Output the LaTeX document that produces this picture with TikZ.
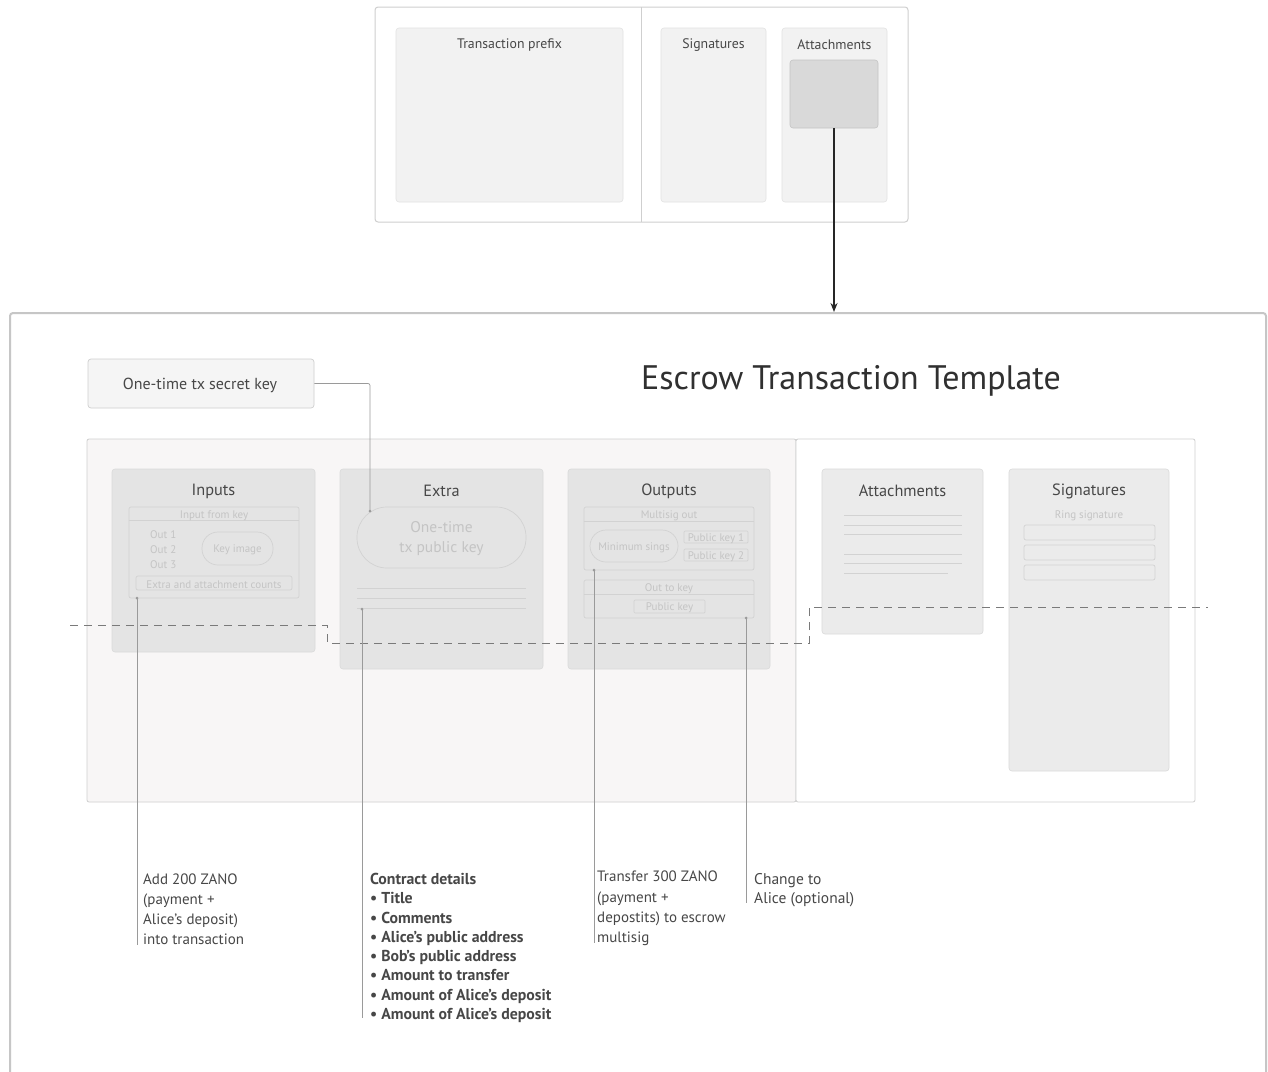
\documentclass[tikz,border=0pt]{standalone}
\usepackage{fontspec}
\setmainfont{PT Sans}
\usetikzlibrary{fit,arrows.meta}
\definecolor{txt}{HTML}{474747}
\definecolor{dark}{HTML}{303030}
\definecolor{faint}{HTML}{C4C4C4}
\definecolor{cardA}{HTML}{E4E4E4}
\definecolor{cardB}{HTML}{EBEBEB}
\definecolor{cardborder}{HTML}{DADADA}
\definecolor{topfill}{HTML}{F2F2F2}
\definecolor{topborder}{HTML}{E2E2E2}
\definecolor{frame}{HTML}{CFCFCF}
\definecolor{bigframe}{HTML}{C6C6C6}
\definecolor{pinkish}{HTML}{F8F6F6}
\definecolor{subline}{HTML}{D2D2D2}
\definecolor{leadc}{HTML}{9A9A9A}
\definecolor{dashc}{HTML}{7A7A7A}
\begin{document}
\begin{tikzpicture}[x=1pt,y=-1pt,
  outerbox/.style={draw=frame,line width=1pt,rounded corners=3pt,inner sep=0pt},
  topcard/.style={fill=topfill,draw=topborder,line width=.6pt,rounded corners=3pt,inner sep=0pt},
  carda/.style={fill=cardA,draw=cardborder,line width=.6pt,rounded corners=3pt,inner sep=0pt},
  cardb/.style={fill=cardB,draw=cardborder,line width=.6pt,rounded corners=3pt,inner sep=0pt},
  subbox/.style={draw=subline,line width=.7pt,rounded corners=2pt,inner sep=0pt},
  pill/.style={draw=subline,line width=.7pt,rounded corners=#1,inner sep=0pt},
  lbl/.style={text=txt,font=\fontsize{16.3}{19}\selectfont,inner sep=0pt,yshift=-2pt},
  toplbl/.style={text=txt,font=\fontsize{13.8}{16}\selectfont,inner sep=0pt,yshift=-2pt},
  tiny/.style={text=faint,font=\fontsize{11}{12}\selectfont,inner sep=0pt,yshift=-1.5pt},
  note/.style={text=txt,font=\fontsize{15}{20}\selectfont,inner sep=0pt,align=left,anchor=north west},
  lead/.style={draw=leadc,line width=.7pt},
  ruleline/.style={draw=subline,line width=.9pt},
  bord/.style={dash pattern=on 8pt off 6pt,draw=dashc,line width=1pt},
]
\useasboundingbox (0,0) rectangle (1268,1071);
\fill[white] (0,0) rectangle (1268,1071);

% ---------- top transaction ----------
\node[outerbox,fill=white,fit={(375,7)(908,222)}] (top) {};
\draw[frame,line width=1pt] (641,7) -- (641,222);
\node[topcard,fit={(396,28)(623,202)}] (tp) {};
\node[toplbl] (tpl) at (509.5,43) {Transaction prefix};
\node[topcard,fit={(661,28)(766,202)}] (tsig) {};
\node[toplbl] (tsigl) at (713.5,43) {Signatures};
\node[topcard,fit={(782,28)(887,202)}] (tatt) {};
\node[toplbl] (tattl) at (834.5,43) {Attachments};
\node[fill=cardA!95!black,draw=cardborder!90!black,line width=.6pt,rounded corners=3pt,inner sep=0pt,fit={(790,60)(878,128)}] (attin) {};

% ---------- big frame ----------
\node[draw=bigframe,line width=2pt,rounded corners=3pt,inner sep=0pt,fit={(10,313)(1266,1090)}] (big) {};
\draw[-{Stealth[length=9pt,width=7pt]},line width=1.5pt,black!85] (attin.south) -- (attin.south |- big.north);

\node[text=dark,font=\fontsize{34}{40}\selectfont,inner sep=0pt] (title) at (851,381) {Escrow Transaction Template};

\node[fill=white!96!black,draw=frame,line width=.7pt,rounded corners=3pt,inner sep=0pt,fit={(88,359)(314,408)}] (sk) {};
\node[text=txt,font=\fontsize{16}{18}\selectfont,inner sep=0pt] (skl) at (200,385) {One-time tx secret key};

% inner frame
\node[fill=pinkish,draw=frame,line width=.8pt,rounded corners=2pt,inner sep=0pt,fit={(87,439)(796,802)}] (left) {};
\node[fill=white,draw=frame,line width=.8pt,rounded corners=2pt,inner sep=0pt,fit={(796,439)(1195,802)}] (right) {};

% Inputs
\node[carda,fit={(112,469)(315,652)}] (inputs) {};
\node[lbl] (inputsl) at (213.5,489) {Inputs};
\node[subbox,fit={(129,507)(299,598)}] (ifk) {};
\draw[subline,line width=.7pt] (ifk.west |- 0,520) -- (ifk.east |- 0,520);
\node[tiny] (ifkl) at (214,514) {Input from key};
\node[tiny,anchor=west] (o1) at (150,533) {Out 1};
\node[tiny,anchor=west] (o2) at (150,548) {Out 2};
\node[tiny,anchor=west] (o3) at (150,563) {Out 3};
\node[pill=16pt,fit={(202,532)(273,565)}] (ki) {};
\node[tiny] (kil) at (ki.center) {Key image};
\node[subbox,fit={(136,576)(292,590)}] (eac) {};
\node[tiny] (eacl) at (eac.center) {Extra and attachment counts};

% Extra
\node[carda,fit={(340,469)(543,669)}] (extra) {};
\node[lbl] (extral) at (441.5,489) {Extra};
\node[pill=30pt,fit={(357,507)(526,568)}] (otp) {};
\node[text=faint,font=\fontsize{15.5}{20}\selectfont,align=center,inner sep=0pt,yshift=-1.5pt] (otpl) at (otp.center) {One-time\\tx public key};
\draw[ruleline] (357,588) -- (526,588);
\draw[ruleline] (357,598) -- (526,598);
\draw[ruleline] (357,608) -- (526,608);

% Outputs
\node[carda,fit={(568,469)(770,669)}] (outputs) {};
\node[lbl] (outputsl) at (669,489) {Outputs};
\node[subbox,fit={(584,507)(754,570)}] (mso) {};
\draw[subline,line width=.7pt] (mso.west |- 0,521) -- (mso.east |- 0,521);
\node[tiny] (msol) at (669,514) {Multisig out};
\node[pill=16pt,fit={(590,530)(678,562)}] (mins) {};
\node[tiny] (minsl) at (mins.center) {Minimum sings};
\node[subbox,rounded corners=1pt,fit={(684,531)(748,543)}] (pk1) {};
\node[tiny] (pk1l) at (pk1.center) {Public key 1};
\node[subbox,rounded corners=1pt,fit={(684,549)(748,561)}] (pk2) {};
\node[tiny] (pk2l) at (pk2.center) {Public key 2};
\node[subbox,fit={(584,580)(754,618)}] (otk) {};
\draw[subline,line width=.7pt] (otk.west |- 0,594) -- (otk.east |- 0,594);
\node[tiny] (otkl) at (669,587) {Out to key};
\node[subbox,rounded corners=1pt,fit={(634,600)(705,613)}] (pk) {};
\node[tiny] (pkl) at (pk.center) {Public key};

% Attachments
\node[cardb,fit={(822,469)(983,634)}] (att) {};
\node[lbl] (attl) at (902.5,489) {Attachments};
\foreach \yy in {515,525,534,554,563} \draw[ruleline] (844,\yy) -- (962,\yy);
\draw[ruleline] (844,573) -- (948,573);

% Signatures
\node[cardb,fit={(1009,469)(1169,771)}] (sig) {};
\node[lbl] (sigl) at (1089,489) {Signatures};
\node[tiny] (ringl) at (1089,514) {Ring signature};
\node[subbox,fit={(1024,525)(1155,540)}] (r1) {};
\node[subbox,fit={(1024,545)(1155,560)}] (r2) {};
\node[subbox,fit={(1024,565)(1155,580)}] (r3) {};

% dashed border
\draw[bord] (70,625) -- (327,625) -- (327,643) -- (809,643) -- (809,607) -- (1208,607);

% secret key connector
\coordinate (skend) at (370,511);
\draw[lead,rounded corners=2pt] (sk.east) -- (skend |- sk.east) -- (skend);
\fill[leadc] (skend) circle (1.5);

% leader lines
\coordinate (l1s) at (137,598); \coordinate (l1e) at (137,945);
\coordinate (l2s) at (362,609); \coordinate (l2e) at (362,1018);
\coordinate (l3s) at (594,570); \coordinate (l3e) at (594,943);
\coordinate (l4s) at (746,618); \coordinate (l4e) at (746,903);
\foreach \a/\b in {l1s/l1e,l2s/l2e,l3s/l3e,l4s/l4e} {
  \draw[lead] (\a) -- (\b);
  \fill[leadc] (\a) circle (1.5);
}

% notes
\node[note] (n1) at (143,874) {Add 200 ZANO\\(payment +\\Alice's deposit)\\into transaction};
\node[note,font=\fontsize{15.8}{19.3}\selectfont\bfseries] (n2) at (370,873) {Contract details\\• Title\\• Comments\\• Alice's public address\\• Bob's public address\\• Amount to transfer\\• Amount of Alice's deposit\\• Amount of Alice's deposit};
\node[note,font=\fontsize{15}{20.3}\selectfont] (n3) at (597,871) {Transfer 300 ZANO\\(payment +\\depostits) to escrow\\multisig};
\node[note,font=\fontsize{15.5}{19}\selectfont] (n4) at (754,873) {Change to\\Alice (optional)};
\end{tikzpicture}
\end{document}
